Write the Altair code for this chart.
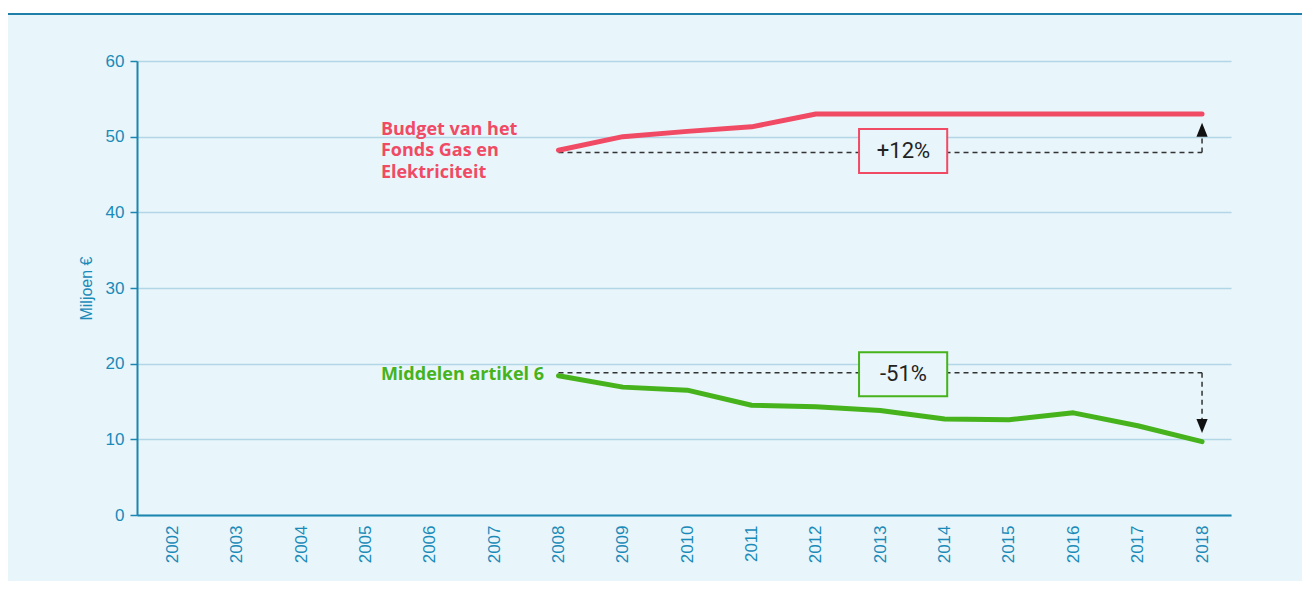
import altair as alt
import pandas as pd

# ---- data ----
years = [2008, 2009, 2010, 2011, 2012, 2013, 2014, 2015, 2016, 2017, 2018]
budget_fonds = [48.2, 50.0, 50.7, 51.3, 53.0, 53.0, 53.0, 53.0, 53.0, 53.0, 53.0]
middelen_art6 = [18.4, 16.9, 16.5, 14.5, 14.3, 13.8, 12.7, 12.6, 13.5, 11.8, 9.7]
tick_years = list(range(2002, 2019))
y_ticks = [0, 10, 20, 30, 40, 50, 60]

RED = "#f04a64"
GREEN = "#46b31c"
BG = "#e8f5fa"
AXIS = "#1b86b0"
LABEL = "#1a8ab8"
GRID = "#b3d6e6"
DARK = "#333333"

W, H = 1094, 454
PAD = {"left": 129, "top": 53, "right": 71, "bottom": 66}

xscale = alt.Scale(domain=[2001.45, 2018.45], nice=False, zero=False)
yscale = alt.Scale(domain=[0, 60], nice=False)
xaxis = alt.Axis(values=tick_years, format="d", labelAngle=-90, labelAlign="right",
                 labelBaseline="middle", labelPadding=10, labelFontSize=17, labelColor=LABEL,
                 ticks=False, grid=False, domainColor=AXIS, domainWidth=2, title=None,
                 labelFont="Liberation Sans")
yaxis = alt.Axis(values=y_ticks, tickSize=7, tickColor=AXIS, tickWidth=1.5, labelPadding=6,
                 labelFontSize=17, labelColor=LABEL, grid=True, gridColor=GRID, gridWidth=1.5,
                 domainColor=AXIS, domainWidth=2, title="Miljoen €", titleFontSize=16,
                 titleFontWeight="normal", titleColor=LABEL, titlePadding=11,
                 labelFont="Liberation Sans", titleFont="Liberation Sans")

X = alt.X("x:Q", scale=xscale, axis=xaxis)
Y = alt.Y("y:Q", scale=yscale, axis=yaxis)
X2 = alt.X2("x2")
Y2 = alt.Y2("y2")

series = pd.DataFrame({"x": years * 2, "y": budget_fonds + middelen_art6,
                       "s": ["budget"] * len(years) + ["middelen"] * len(years)})

# dashed reference lines
dash = pd.DataFrame([
    {"x": 2008, "y": 47.9, "x2": 2018, "y2": 47.9},
    {"x": 2018, "y": 47.9, "x2": 2018, "y2": 50.0},
    {"x": 2008, "y": 18.8, "x2": 2018, "y2": 18.8},
    {"x": 2018, "y": 18.8, "x2": 2018, "y2": 12.7},
])
dash_layer = alt.Chart(dash).mark_rule(color=DARK, strokeWidth=1.5, strokeDash=[5, 4]).encode(
    x=X, y=Y, x2=X2, y2=Y2)

arrows = pd.DataFrame([{"x": 2018, "y": 50.9, "dir": "up"}, {"x": 2018, "y": 11.75, "dir": "down"}])
arrow_up = alt.Chart(arrows[arrows.dir == "up"]).mark_point(
    shape="M-0.8,1L0,-1L0.8,1Z", size=196, filled=True, color="#111111", opacity=1).encode(x=X, y=Y)
arrow_down = alt.Chart(arrows[arrows.dir == "down"]).mark_point(
    shape="M-0.8,-1L0,1L0.8,-1Z", size=196, filled=True, color="#111111", opacity=1).encode(x=X, y=Y)

boxes = pd.DataFrame([
    {"x": 2012.67, "x2": 2014.04, "y": 51.0, "y2": 45.2, "c": RED, "t": "+12%", "tx": 2013.36, "ty": 48.1},
    {"x": 2012.67, "x2": 2014.04, "y": 21.5, "y2": 15.7, "c": GREEN, "t": "-51%", "tx": 2013.36, "ty": 18.6},
])
box_layer = alt.Chart(boxes).mark_rect(fill=BG, strokeWidth=2).encode(
    x=X, y=Y, x2=X2, y2=Y2, stroke=alt.Color("c:N", scale=None))
box_text = alt.Chart(boxes).mark_text(fontSize=22, font="Roboto", color="#222222",
                                      align="center", baseline="middle").encode(
    x=alt.X("tx:Q", scale=xscale, axis=xaxis), y=alt.Y("ty:Q", scale=yscale, axis=yaxis), text="t:N")

lines = alt.Chart(series).mark_line(strokeWidth=5, strokeCap="round", strokeJoin="round").encode(
    x=X, y=Y, detail="s:N",
    color=alt.Color("s:N", scale=alt.Scale(domain=["budget", "middelen"], range=[RED, GREEN]), legend=None))

labels = pd.DataFrame([
    {"x": 2005.24, "y": 50.9, "t": "Budget van het\nFonds Gas en\nElektriciteit", "c": RED},
    {"x": 2005.24, "y": 18.5, "t": "Middelen artikel 6", "c": GREEN},
])
label_layer = alt.Chart(labels).mark_text(font="Open Sans", fontWeight="bold", fontSize=18, align="left",
                                          baseline="middle", lineBreak="\n", lineHeight=21.5).encode(
    x=X, y=Y, text="t:N", color=alt.Color("c:N", scale=None))

one = pd.DataFrame({"a": [0]})
top_white = alt.Chart(one).mark_rect(color="white").encode(
    x=alt.value(-PAD["left"]), x2=alt.value(W + PAD["right"]), y=alt.value(-PAD["top"]), y2=alt.value(-48))
top_rule = alt.Chart(one).mark_rule(color="#1f7fa6", strokeWidth=2).encode(
    x=alt.value(-PAD["left"]), x2=alt.value(W + PAD["right"]), y=alt.value(-47))

chart = alt.layer(dash_layer, box_layer, box_text, lines, arrow_up, arrow_down, label_layer,
                  top_white, top_rule).properties(
    width=W, height=H, padding=PAD, autosize=alt.AutoSizeParams(type="none"),
    background=BG
).configure_view(stroke=None, fill=None)

chart.save("out.html", embed_options={"renderer": "svg", "actions": False})
